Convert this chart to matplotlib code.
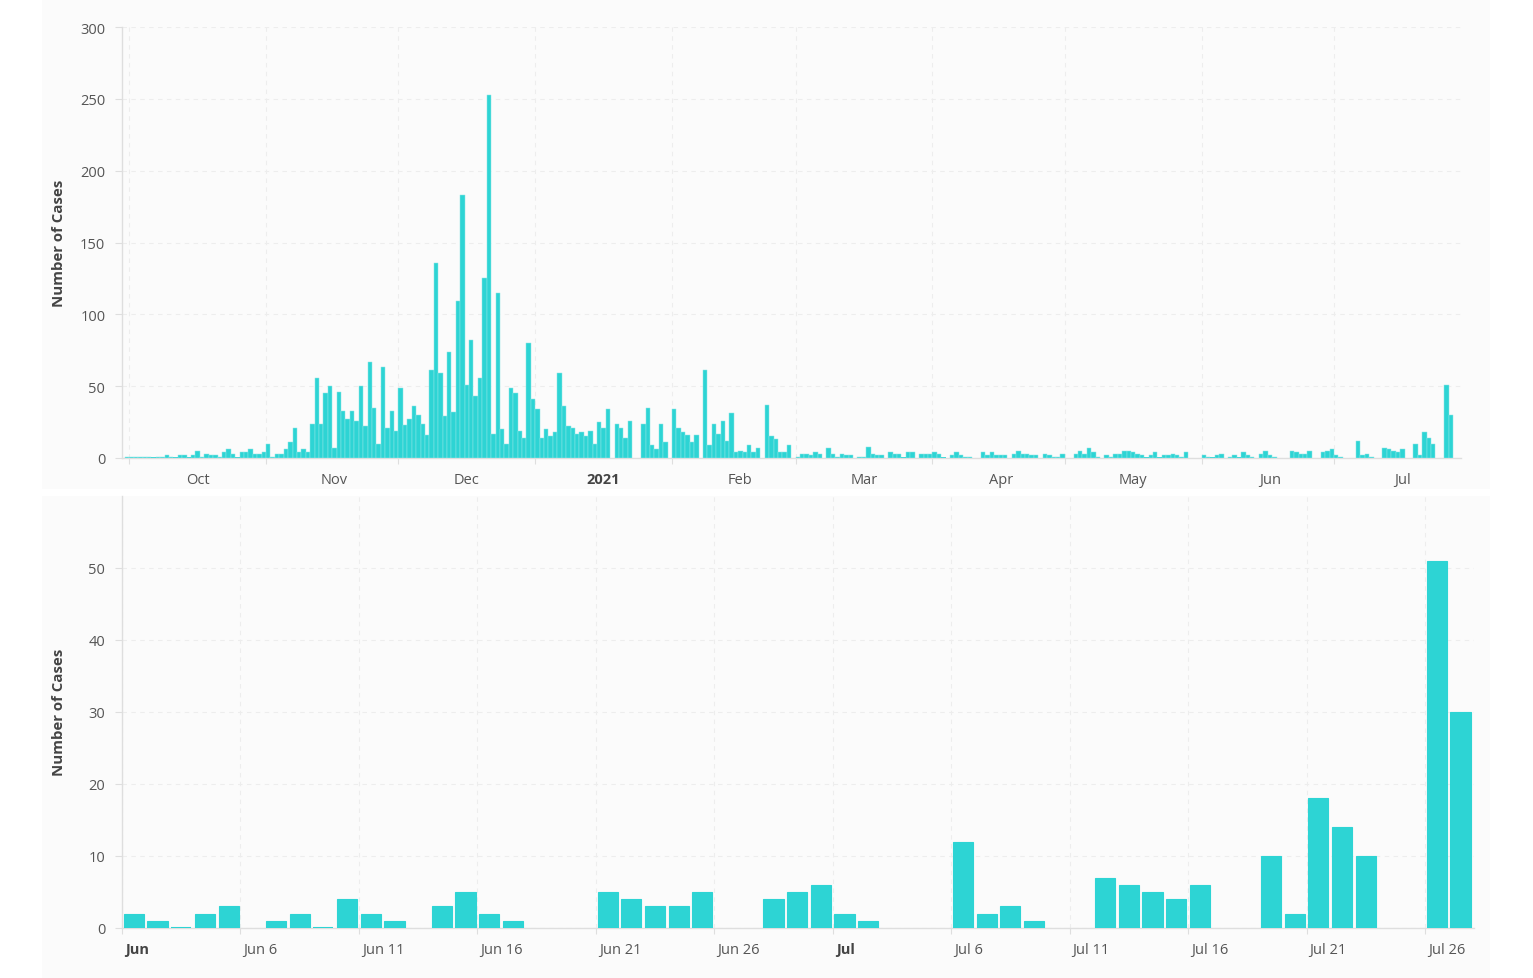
import datetime as dt
import matplotlib
matplotlib.use("Agg")
import matplotlib.pyplot as plt
import matplotlib.dates as mdates
import matplotlib.transforms as mtransforms
from matplotlib.patches import Rectangle

# ---------------- data (daily case counts, None = no report) ----------------
first_day = dt.date(2020, 9, 30)
sep_2020 = [1]
oct_2020 = [1, 1, 1, 1, 1, 0, 1, 1, 2, 1, 0, 2, 2, 0, 2, 5, 1, 3, 2, 2, 1, 4, 6, 3, 0, 4, 4, 6, 3, 3, 4]
nov_2020 = [10, 1, 3, 3, 6, 11, 21, 4, 6, 4, 24, 56, 24, 45, 50, 7, 46, 33, 27, 33, 26, 50, 22, 67, 35, 10, 63, 21, 33, 19]
dec_2020 = [49, 23, 27, 36, 30, 24, 16, 61, 136, 59, 29, 74, 32, 109, 183, 51, 82, 43, 56, 125, 253, 17, 115, 20, 10,
            49, 45, 19, 14, 80, 41]
jan_2021 = [34, 14, 20, 15, 18, 59, 36, 22, 21, 17, 18, 15, 19, 10, 25, 21, 34, None, 24, 21, 14, 26, None, None, 24,
            35, 9, 6, 24, 11, None]
feb_2021 = [34, 21, 18, 16, 11, 16, None, 61, 9, 24, 17, 26, 12, 31, 4, 5, 4, 9, 4, 7, None, 37, 15, 13, 4, 4, 9, None]
mar_2021 = [1, 3, 3, 2, 4, 3, None, 7, 3, 1, 3, 2, 2, None, 1, 1, 8, 3, 2, 2, None, 4, 3, 3, 0, 4, 4, None, 3, 3, 3]
apr_2021 = [4, 3, 0, None, 2, 4, 2, 1, 1, None, None, 4, 2, 4, 2, 2, 2, None, 3, 5, 3, 3, 2, 2, None, 3, 2, 1, 1, 3]
may_2021 = [None, None, 3, 5, 3, 7, 4, 1, None, 2, 1, 3, 3, 5, 5, 4, 3, 2, 0, 2, 4, 0, 2, 2, 3, 2, 1, 4, None, None,
            None]
jun_2021 = [2, 1, 0, 2, 3, None, 1, 2, 0, 4, 2, 1, None, 3, 5, 2, 1, None, None, None, 5, 4, 3, 3, 5, None, None, 4, 5, 6]
jul_2021 = [2, 1, None, None, None, 12, 2, 3, 1, None, None, 7, 6, 5, 4, 6, None, None, 10, 2, 18, 14, 10, None, None,
            51, 30]

top_month_labels = ["Oct", "Nov", "Dec", "2021", "Feb", "Mar", "Apr", "May", "Jun", "Jul"]
top_yticks = [0, 50, 100, 150, 200, 250, 300]
bottom_tick_labels = ["Jun", "Jun 6", "Jun 11", "Jun 16", "Jun 21", "Jun 26",
                      "Jul", "Jul 6", "Jul 11", "Jul 16", "Jul 21", "Jul 26"]
bottom_yticks = [0, 10, 20, 30, 40, 50]
y_title = "Number of Cases"

# ---------------- assemble ----------------
all_vals = sep_2020 + oct_2020 + nov_2020 + dec_2020 + jan_2021 + feb_2021 + mar_2021 + apr_2021 + may_2021 + jun_2021 + jul_2021
all_dates = [first_day + dt.timedelta(days=i) for i in range(len(all_vals))]
pairs = [(d, v) for d, v in zip(all_dates, all_vals) if v is not None]
top_x = [mdates.date2num(d) for d, _ in pairs]
top_y = [v for _, v in pairs]

zoom_start = dt.date(2021, 6, 1)
zoom_pairs = [(d, v) for d, v in pairs if d >= zoom_start]
bot_x = [mdates.date2num(d) + 0.5 for d, _ in zoom_pairs]
bot_y = [v for _, v in zoom_pairs]

BAR = "#2dd4d4"
GRID = "#ededed"
AXC = "#dedede"
TXT = "#555555"
FONT = "Open Sans"

W, H = 1533, 979
fig = plt.figure(figsize=(W / 100, H / 100), dpi=100, facecolor="white")

# card backgrounds
fig.patches.append(Rectangle((42 / W, 1 - 490 / H), (1490 - 42) / W, 490 / H, transform=fig.transFigure,
                             facecolor="#fbfbfb", edgecolor="none", zorder=-10))
fig.patches.append(Rectangle((42 / W, 0), (1490 - 42) / W, (979 - 497) / H, transform=fig.transFigure,
                             facecolor="#fbfbfb", edgecolor="none", zorder=-10))


def style_axes(ax):
    ax.set_facecolor("none")
    for s in ["top", "right"]:
        ax.spines[s].set_visible(False)
    for s in ["left", "bottom"]:
        ax.spines[s].set_color(AXC)
        ax.spines[s].set_linewidth(1.0)
    ax.tick_params(axis="y", which="major", length=5, width=0.8, color=AXC, pad=7,
                   labelsize=10.5, labelcolor=TXT)
    ax.tick_params(axis="x", which="major", length=4, width=0.8, color=AXC, labelsize=10.5, labelcolor=TXT)
    for lab in ax.get_yticklabels():
        lab.set_fontfamily(FONT)
    ax.set_axisbelow(True)


# ---------------- top chart ----------------
ax1 = fig.add_axes([122 / W, 1 - 459 / H, (1461 - 122) / W, 431 / H])
oct1 = mdates.date2num(dt.date(2020, 10, 1))
ax1.bar(top_x, top_y, width=1.0, align="edge", color=BAR, edgecolor="#8ee6e6", linewidth=0.35, zorder=3)
zx = [x for x, v in zip(top_x, top_y) if v == 0]
ax1.hlines([0] * len(zx), zx, [x + 1 for x in zx], color=BAR, linewidth=1.2, zorder=4)
ax1.set_xlim(oct1 - 1.65, oct1 + 301.8)
ax1.set_ylim(0, 300)
ax1.set_yticks(top_yticks)
ax1.set_yticklabels([str(t) for t in top_yticks])

month_starts = [dt.date(2020, 10, 1), dt.date(2020, 11, 1), dt.date(2020, 12, 1), dt.date(2021, 1, 1),
                dt.date(2021, 2, 1), dt.date(2021, 3, 1), dt.date(2021, 4, 1), dt.date(2021, 5, 1),
                dt.date(2021, 6, 1), dt.date(2021, 7, 1)]
ms_num = [mdates.date2num(d) for d in month_starts]
ax1.set_xticks(ms_num)
ax1.set_xticklabels([])
centers = [m + 15.5 for m in ms_num]
ax1.set_xticks(centers, minor=True)
ax1.set_xticklabels(top_month_labels, minor=True)
ax1.tick_params(axis="x", which="minor", length=0, pad=10, labelsize=10.5, labelcolor=TXT)
style_axes(ax1)
for lab in ax1.get_xticklabels(minor=True):
    lab.set_fontfamily(FONT)
    if lab.get_text() == "2021":
        lab.set_fontweight("bold")
        lab.set_color("#444444")
ax1.grid(True, axis="both", which="major", color=GRID, linestyle=(0, (4, 4)), linewidth=0.8)

# ---------------- bottom chart ----------------
ax2 = fig.add_axes([122 / W, 1 - 929 / H, (1474 - 122) / W, 432 / H])
jun1 = mdates.date2num(zoom_start)
ax2.bar(bot_x, bot_y, width=0.85, align="center", color=BAR, edgecolor=BAR, linewidth=0.8, zorder=3)
bzx = [x for x, v in zip(bot_x, bot_y) if v == 0]
ax2.hlines([0] * len(bzx), [x - 0.425 for x in bzx], [x + 0.425 for x in bzx], color=BAR, linewidth=1.5, zorder=4)
ax2.set_xlim(jun1, jun1 + 57.07)
ax2.set_ylim(0, 60)
ax2.set_yticks(bottom_yticks)
ax2.set_yticklabels([str(t) for t in bottom_yticks])
bt_pos = [jun1 + 5 * i for i in range(len(bottom_tick_labels))]
ax2.set_xticks(bt_pos)
ax2.set_xticklabels(bottom_tick_labels)
style_axes(ax2)
ax2.tick_params(axis="x", which="major", pad=6)
shift = mtransforms.ScaledTranslation(3 / 100, 0, fig.dpi_scale_trans)
for lab in ax2.get_xticklabels():
    lab.set_fontfamily(FONT)
    lab.set_horizontalalignment("left")
    lab.set_transform(lab.get_transform() + shift)
    if lab.get_text() in ("Jun", "Jul"):
        lab.set_fontweight("bold")
        lab.set_color("#444444")
ax2.grid(True, axis="both", which="major", color=GRID, linestyle=(0, (4, 4)), linewidth=0.8)

# axis titles
for yc in (243, 712):
    fig.text(59 / W, 1 - yc / H, y_title, rotation=90, ha="center", va="center",
             fontsize=10.8, fontweight="bold", color="#444444", family=FONT)

fig.savefig("out.png", dpi=100, facecolor="white")
